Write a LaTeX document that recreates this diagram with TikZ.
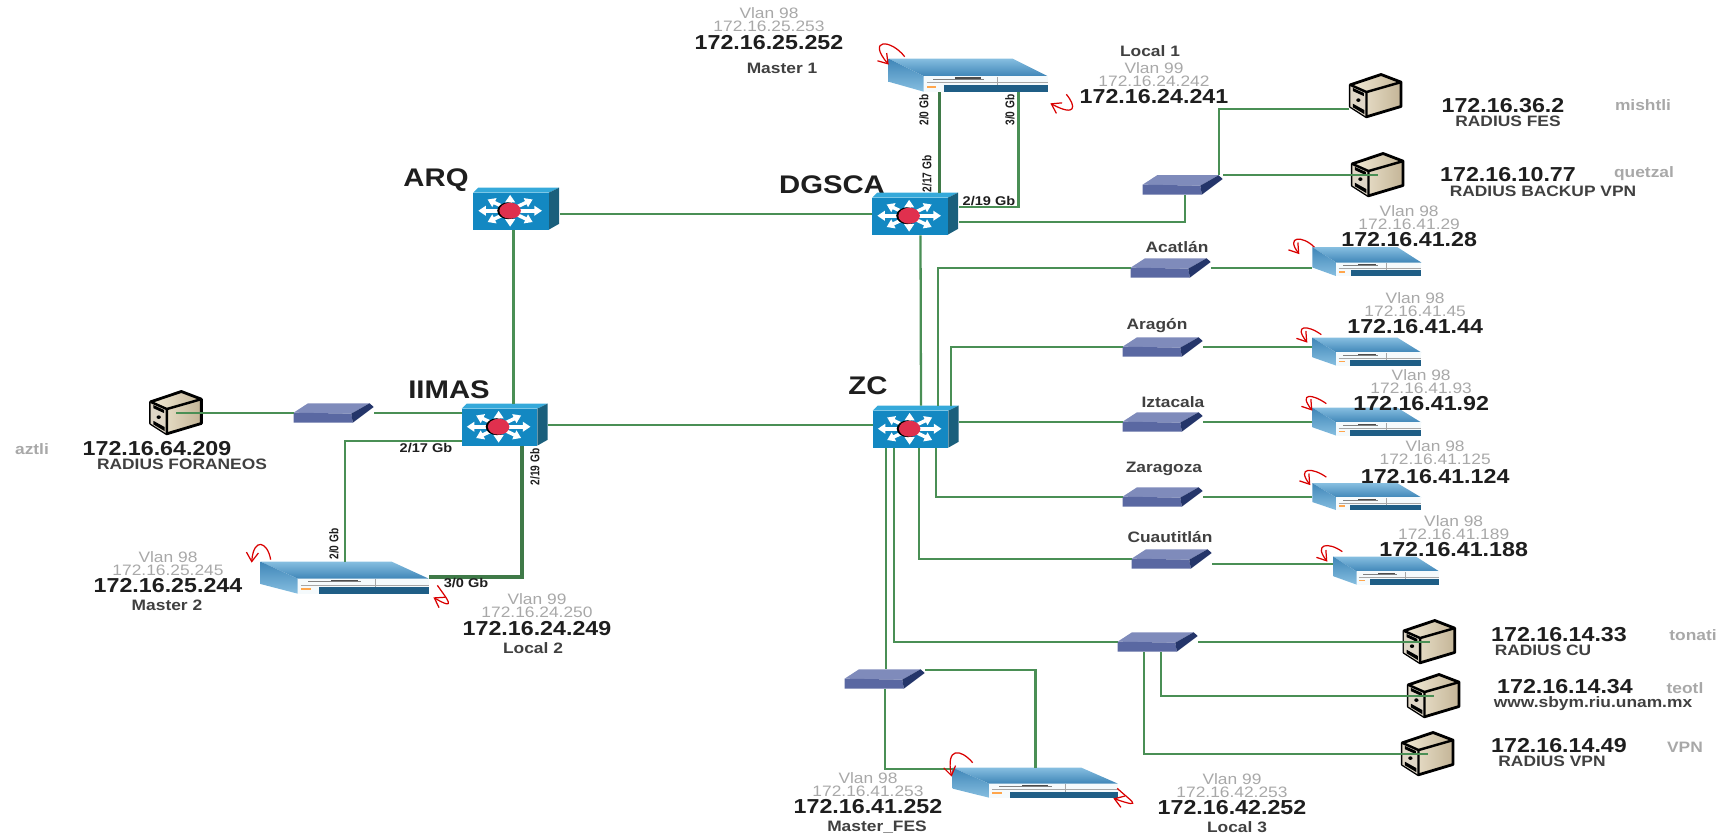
\documentclass[tikz,border=0pt]{standalone}
\usepackage{fontspec}
\setmainfont[FakeStretch=1.15]{Liberation Sans}
\usepackage{xcolor}
\usetikzlibrary{positioning,arrows.meta}
\definecolor{netGreen}{HTML}{4A8F55}
\definecolor{netInk}{HTML}{1E1E1E}
\definecolor{netGray}{HTML}{A8A8A8}
\definecolor{coreBlue}{HTML}{1388C2}
\definecolor{coreTop}{HTML}{35A9DA}
\definecolor{coreSide}{HTML}{1A5F7C}
\definecolor{coreRed}{HTML}{E0304E}
\definecolor{hubTop}{HTML}{7F8BBB}
\definecolor{hubFront}{HTML}{5A68A2}
\definecolor{hubSide}{HTML}{24356A}
\definecolor{routerLight}{HTML}{86BEE0}
\definecolor{routerMid}{HTML}{3F86B8}
\definecolor{routerStrip}{HTML}{1F5E86}
\definecolor{serverLight}{HTML}{F2EAD6}
\definecolor{serverMid}{HTML}{C4B597}
\newcommand{\vl}[1]{\textcolor{netGray}{#1}}
\newcommand{\ipmain}[1]{{\fontsize{11.5}{13}\selectfont\bfseries\textcolor{netInk}{#1}}}
\newcommand{\tightstack}{\lineskiplimit-10pt\relax}
\tikzset{
  corepic/.pic={
    \fill[coreTop] (0,12) -- (6,0) -- (100,0) -- (88,12) -- cycle;
    \fill[coreSide] (88,12) -- (100,0) -- (100,86) -- (88,100) -- cycle;
    \fill[coreBlue] (0,12) rectangle (88,100);
    \foreach \a in {0,45,...,315}
      \draw[white,line width=2pt,-{Triangle[length=1.5mm,width=1.9mm]}]
        ({43+10*cos(\a)},{55+12*sin(\a)}) -- ({43+37*cos(\a)},{55+38*sin(\a)});
    \fill[black] (41,55) ellipse (13 and 20);
    \fill[coreRed] (43,55) ellipse (12.5 and 19);},
  hubpic/.pic={
    \fill[hubTop] (0,50) -- (18,3) -- (95,3) -- (72,55) -- cycle;
    \fill[hubFront] (0,50) -- (72,55) -- (74,100) -- (0,100) -- cycle;
    \fill[hubSide] (72,55) -- (95,3) -- (100,22) -- (74,100) -- cycle;},
  routerpic/.pic={
    \shade[top color=routerLight,bottom color=routerMid] (0,0) -- (78,0) -- (100,53) -- (22,53) -- cycle;
    \shade[top color=routerMid,bottom color=routerLight] (0,0) -- (22,53) -- (22,100) -- (0,70) -- cycle;
    \fill[white!92!routerLight] (22,53) rectangle (100,100);
    \fill[routerStrip] (35,80) rectangle (100,100);
    \fill[gray] (28,62) rectangle (60,65);
    \fill[black!70] (42,57) rectangle (58,62);
    \draw[gray!70,line width=.3pt] (24,73) -- (100,73) (68,55) -- (68,80);
    \fill[orange!70] (24,82) rectangle (30,88);},
  serverpic/.pic={
    \shade[left color=serverLight,right color=serverMid,draw=black,line width=1.6pt,line join=round]
      (3,26) -- (60,3) -- (97,20) -- (97,74) -- (33,97) -- (3,74) -- cycle;
    \fill[serverMid!55!white] (3,26) -- (33,42) -- (33,97) -- (3,74) -- cycle;
    \draw[black,line width=1.4pt,line join=round] (3,26) -- (33,42) -- (97,20) (33,42) -- (33,97);
    \fill[black] (8,33) -- (28,44) -- (28,51) -- (8,40) -- cycle;
    \fill[black] (8,68) -- (29,82) -- (29,91) -- (8,76) -- cycle;
    \fill[black] (18,60) circle (4);},
  link/.style={draw=netGreen,line width=1.3pt},
  uplink/.style={draw=netGreen!85!black,line width=1.9pt},
  redloop/.style={draw=red!85!black,line width=.7pt,-{Straight Barb[length=1.8mm,width=2.4mm]}},
  core/.style={minimum width=86*0.02cm,minimum height=42*0.02cm,inner sep=0pt},
  hub/.style={minimum width=80*0.02cm,minimum height=20*0.02cm,inner sep=0pt},
  router/.style 2 args={minimum width=#1*0.02cm,minimum height=#2*0.02cm,inner sep=0pt},
  server/.style={minimum width=54*0.02cm,minimum height=45*0.02cm,inner sep=0pt},
  sitename/.style={inner sep=0pt,font=\fontsize{14.5}{16}\selectfont\bfseries,text=netInk},
  addr/.style={inner sep=0pt,align=center,font=\fontsize{8.6}{7.3pt}\selectfont\tightstack},
  ipbig/.style={inner sep=0pt,font=\fontsize{11.5}{13}\selectfont\bfseries,text=netInk},
  tagname/.style={inner sep=0pt,font=\fontsize{8.6}{10}\selectfont\bfseries,text=netInk!85},
  hostname/.style={inner sep=0pt,font=\fontsize{8.6}{10}\selectfont\bfseries,text=netGray},
  portname/.style={inner sep=0pt,font=\fontsize{7.2}{8}\selectfont\bfseries,text=netInk}}
\begin{document}
\begin{tikzpicture}[x=0.02cm,y=-0.02cm]
    \useasboundingbox (0,0) rectangle (1727,838);
    % core switches
    \node[core] (arq) at (516.5,209) {};
    \node[core] (dgsca) at (915.5,214) {};
    \node[core] (iimas) at (505,425) {};
    \node[core] (zc) at (916,427) {};
    \node[sitename] (arqname) at (436,180) {ARQ};
    \node[sitename] (dgscaname) at (832,185) {DGSCA};
    \node[sitename] (iimasname) at (449,390) {IIMAS};
    \node[sitename] (zcname) at (868,386) {ZC};
    % access switches
    \node[hub] (rsw) at (1183,185) {};
    \node[hub] (acatlansw) at (1171,268) {};
    \node[hub] (aragonsw) at (1163,347) {};
    \node[hub] (iztacalasw) at (1163,422) {};
    \node[hub] (zaragozasw) at (1163,497) {};
    \node[hub] (cuautsw) at (1172,559) {};
    \node[hub] (cusw) at (1158,642) {};
    \node[hub] (fessw) at (885,679) {};
    \node[hub] (aztlisw) at (334,413) {};
    % routers
    \node[router={159}{33}] (master1) at (968.5,75.5) {};
    \node[router={168}{32}] (master2) at (345,578) {};
    \node[router={165}{30}] (masterfes) at (1035.5,783) {};
    \node[router={109}{29},right=2.02cm of acatlansw,yshift=.12cm] (acatlanrt) {};
    \node[router={109}{28},right=2.18cm of aragonsw,yshift=-.1cm] (aragonrt) {};
    \node[router={109}{28},right=2.18cm of iztacalasw] (iztacalart) {};
    \node[router={109}{27},right=2.18cm of zaragozasw] (zaragozart) {};
    \node[router={106}{28},right=2.42cm of cuautsw,yshift=-.24cm] (cuautrt) {};
    % servers
    \node[server] (mishtli) at (1376,96) {};
    \node[server] (quetzal) at (1378,175) {};
    \node[server,left=1.8cm of aztlisw] (aztli) {};
    \node[server,right=4.08cm of cusw] (tonati) {};
    \node[server] (teotl) at (1434,696) {};
    \node[server] (vpnsrv) at (1428,754) {};
    % icons
    \foreach \n in {arq,dgsca,iimas,zc}
      \pic[xscale=.86,yscale=.42] at (\n.north west) {corepic};
    \foreach \n in {rsw,acatlansw,aragonsw,iztacalasw,zaragozasw,cuautsw,cusw,fessw,aztlisw}
      \pic[xscale=.8,yscale=.2] at (\n.north west) {hubpic};
    \foreach \n/\w/\h in {master1/1.59/.33,master2/1.68/.32,masterfes/1.65/.3,acatlanrt/1.09/.29,aragonrt/1.09/.28,iztacalart/1.09/.28,zaragozart/1.09/.27,cuautrt/1.06/.28}
      \pic[xscale=\w,yscale=\h] at (\n.north west) {routerpic};
    \foreach \n in {mishtli,quetzal,aztli,tonati,teotl,vpnsrv}
      \pic[xscale=.54,yscale=.45] at (\n.north west) {serverpic};
    % links
    \draw[link] (arq.east |- dgsca.west) -- (dgsca.west);
    \draw[link] ([xshift=-.06cm]arq.south) -- ([xshift=-.06cm]arq.south |- iimas.north);
    \draw[link] (iimas.east) -- (iimas.east -| zc.west);
    \draw[link] ([xshift=.1cm]dgsca.south) -- ([xshift=.1cm]zc.north);
    \draw[uplink] ([xshift=-.58cm]master1.south) -- ([xshift=-.58cm]master1.south |- dgsca.north);
    \draw[link] ([xshift=1cm]master1.south) |- ([yshift=.14cm]dgsca.east);
    \draw[link] ([yshift=-.16cm]dgsca.east) -| ([xshift=.04cm]rsw.south);
    \draw[link] ([xshift=.72cm]rsw.north) |- ([yshift=-.26cm]mishtli.west);
    \draw[link] ([yshift=.2cm]rsw.east) -- ([yshift=.2cm]rsw.east -| quetzal.center);
    \draw[link] ([xshift=.44cm]zc.north) |- (acatlansw.west);
    \draw[link] (acatlansw.east) -- (acatlansw.east -| acatlanrt.west);
    \draw[link] ([xshift=.7cm]zc.north) |- (aragonsw.west);
    \draw[link] (aragonsw.east) -- (aragonsw.east -| aragonrt.west);
    \draw[link] (zc.east |- iztacalasw) -- (iztacalasw.west);
    \draw[link] (iztacalasw.east) -- (iztacalasw.east -| iztacalart.west);
    \draw[link] ([xshift=.4cm]zc.south) |- (zaragozasw.west);
    \draw[link] (zaragozasw.east) -- (zaragozasw.east -| zaragozart.west);
    \draw[link] ([xshift=.06cm]zc.south) |- (cuautsw.west);
    \draw[link] ([yshift=-.1cm]cuautsw.east) -- ([yshift=-.1cm]cuautsw.east -| cuautrt.west);
    \draw[link] ([xshift=-.44cm]zc.south) |- (cusw.west);
    \draw[link] (cusw.east) -- (tonati.center);
    \draw[link] ([xshift=.06cm]cusw.south) |- (teotl.center);
    \draw[link] ([xshift=-.28cm]cusw.south) |- (vpnsrv.center);
    \draw[link] ([xshift=-.6cm]zc.south) -- ([xshift=-.6cm]zc.south |- fessw.north);
    \draw[link] (fessw.south) |- ([yshift=.28cm]masterfes.west);
    \draw[link] ([yshift=.18cm]fessw.east) -| (masterfes.north);
    \draw[link] (aztli.center) -- (aztlisw.west);
    \draw[link] (aztlisw.east) -- (aztlisw.east -| iimas.west);
    \draw[link] ([yshift=-.32cm]iimas.west) -| (master2.north);
    \draw[uplink] ([xshift=.34cm]iimas.south) |- ([yshift=.02cm]master2.east);
    % port labels
    \node[portname,rotate=90,xscale=.7] (p20a) at (924,110) {2/0 Gb};
    \node[portname,rotate=90,xscale=.7] (p30a) at (1010,110) {3/0 Gb};
    \node[portname,rotate=90,xscale=.7] (p217a) at (927,174) {2/17 Gb};
    \node[portname] (p219a) at (989,201) {2/19 Gb};
    \node[portname] (p217b) at (426,448) {2/17 Gb};
    \node[portname,rotate=90,xscale=.7] (p219b) at (535,467) {2/19 Gb};
    \node[portname,rotate=90,xscale=.7] (p20b) at (334,544) {2/0 Gb};
    \node[portname] (p30b) at (466,583) {3/0 Gb};
    % router addresses
    \node[addr,anchor=north] (master1ip) at (769,7) {\vl{Vlan 98}\\\vl{172.16.25.253}\\[3.4pt]\ipmain{172.16.25.252}};
    \node[tagname] (master1tag) at (782,68) {Master 1};
    \node[tagname] (local1tag) at (1150,51) {Local 1};
    \node[addr,anchor=north] (local1ip) at (1154,62) {\vl{Vlan 99}\\\vl{172.16.24.242}\\[2.8pt]\ipmain{172.16.24.241}};
    \node[addr,anchor=north] (master2ip) at (168,551) {\vl{Vlan 98}\\\vl{172.16.25.245}\\[2.4pt]\ipmain{172.16.25.244}};
    \node[tagname] (master2tag) at (167,605) {Master 2};
    \node[addr,anchor=north] (local2ip) at (537,593) {\vl{Vlan 99}\\\vl{172.16.24.250}\\[3.4pt]\ipmain{172.16.24.249}};
    \node[tagname] (local2tag) at (533,648) {Local 2};
    \node[addr,anchor=north] (masterfesip) at (868,772) {\vl{Vlan 98}\\\vl{172.16.41.253}\\[2.8pt]\ipmain{172.16.41.252}};
    \node[tagname] (masterfestag) at (877,827) {Master\_FES};
    \node[addr,anchor=north] (local3ip) at (1232,773) {\vl{Vlan 99}\\\vl{172.16.42.253}\\[2.8pt]\ipmain{172.16.42.252}};
    \node[tagname] (local3tag) at (1237,827) {Local 3};
    \node[addr,above=.01cm of acatlanrt,xshift=.84cm] (acatlanip) {\vl{Vlan 98}\\\vl{172.16.41.29}\\[2.2pt]\ipmain{172.16.41.28}};
    \node[addr,above=.08cm of aragonrt,xshift=.96cm] (aragonip) {\vl{Vlan 98}\\\vl{172.16.41.45}\\[2.2pt]\ipmain{172.16.41.44}};
    \node[addr,above=-.06cm of iztacalart,xshift=1.08cm] (iztacalaip) {\vl{Vlan 98}\\\vl{172.16.41.93}\\[2.2pt]\ipmain{172.16.41.92}};
    \node[addr,above=-.01cm of zaragozart,xshift=1.36cm] (zaragozaip) {\vl{Vlan 98}\\\vl{172.16.41.125}\\[3.4pt]\ipmain{172.16.41.124}};
    \node[addr,above=0cm of cuautrt,xshift=1.34cm] (cuautip) {\vl{Vlan 98}\\\vl{172.16.41.189}\\[2.2pt]\ipmain{172.16.41.188}};
    % campus names
    \node[tagname] (acatlanname) at (1177,247) {Acatlán};
    \node[tagname] (aragonname) at (1157,326) {Aragón};
    \node[tagname] (iztacalaname) at (1173,402) {Iztacala};
    \node[tagname] (zaragozaname) at (1164,469) {Zaragoza};
    \node[tagname] (cuautname) at (1170,537) {Cuautitlán};
    % server labels
    \node[ipbig] (mishtliip) at (1503,106) {172.16.36.2};
    \node[tagname] (mishtlirole) at (1508,121) {RADIUS FES};
    \node[hostname] (mishtlihost) at (1643,105) {mishtli};
    \node[ipbig] (quetzalip) at (1508,175) {172.16.10.77};
    \node[tagname] (quetzalrole) at (1543,191) {RADIUS BACKUP VPN};
    \node[hostname] (quetzalhost) at (1644,174) {quetzal};
    \node[ipbig] (aztliip) at (157,449) {172.16.64.209};
    \node[tagname] (aztlirole) at (182,464) {RADIUS FORANEOS};
    \node[hostname] (aztlihost) at (32,449) {aztli};
    \node[ipbig] (tonatiip) at (1559,635) {172.16.14.33};
    \node[tagname] (tonatirole) at (1543,650) {RADIUS CU};
    \node[hostname] (tonatihost) at (1693,635) {tonati};
    \node[ipbig] (teotlip) at (1565,687) {172.16.14.34};
    \node[tagname] (teotlrole) at (1593,704) {www.sbym.riu.unam.mx};
    \node[hostname] (teotlhost) at (1685,688) {teotl};
    \node[ipbig] (vpnip) at (1559,746) {172.16.14.49};
    \node[tagname] (vpnrole) at (1552,761) {RADIUS VPN};
    \node[hostname] (vpnhost) at (1685,747) {VPN};
    % red marks
    \draw[redloop] ([shift={(16,-2)}]master1.north west) .. controls +(-14,-18) and +(-22,-26) .. ([shift={(0,6)}]master1.north west);
    \draw[redloop] ([shift={(18,2)}]master1.south east) .. controls +(10,12) and +(26,14) .. ([shift={(2,11)}]master1.south east);
    \draw[redloop] ([shift={(10,-2)}]master2.north west) .. controls +(-3,-18) and +(2,-26) .. ([shift={(-9,1)}]master2.north west);
    \draw[redloop] ([shift={(8,-9)}]master2.south east) .. controls +(10,14) and +(24,14) .. ([shift={(4,3)}]master2.south east);
    \draw[redloop] ([shift={(20,-5)}]masterfes.north west) .. controls +(-12,-14) and +(-6,-30) .. ([shift={(-1,9)}]masterfes.north west);
    \draw[redloop] ([shift={(-1,-10)}]masterfes.south east) .. controls +(10,10) and +(34,12) .. ([shift={(-5,0)}]masterfes.south east);
    \draw[redloop] ([shift={(2,0)}]acatlanrt.north west) .. controls +(-12,-12) and +(-14,-18) .. ([shift={(-13,7)}]acatlanrt.north west);
    \draw[redloop] ([shift={(9,-3)}]aragonrt.north west) .. controls +(-14,-10) and +(-14,-18) .. ([shift={(-5,5)}]aragonrt.north west);
    \draw[redloop] ([shift={(14,-4)}]iztacalart.north west) .. controls +(-14,-10) and +(-14,-18) .. ([shift={(0,3)}]iztacalart.north west);
    \draw[redloop] ([shift={(14,-6)}]zaragozart.north west) .. controls +(-14,-10) and +(-14,-18) .. ([shift={(-2,2)}]zaragozart.north west);
    \draw[redloop] ([shift={(9,-5)}]cuautrt.north west) .. controls +(-14,-10) and +(-14,-18) .. ([shift={(-6,5)}]cuautrt.north west);
  \end{tikzpicture}
\end{document}
